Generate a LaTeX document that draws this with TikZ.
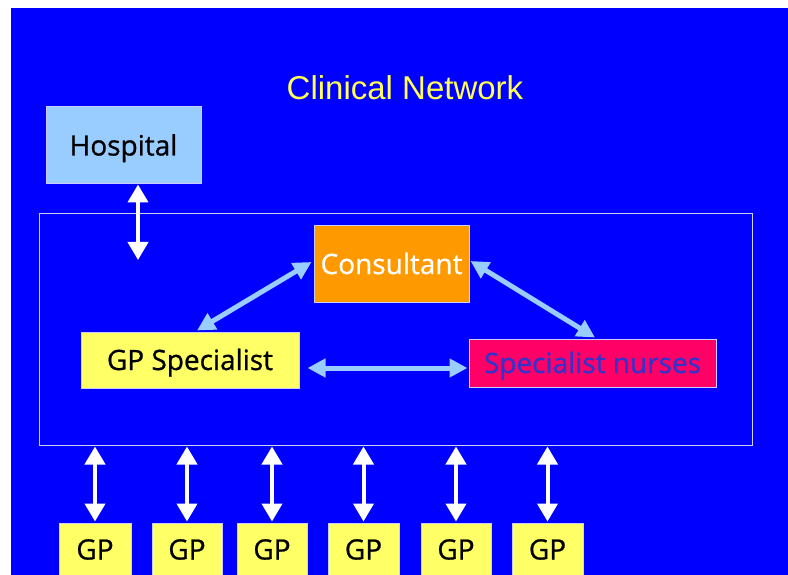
\documentclass[tikz,border=0pt]{standalone}
\usepackage{fontspec}
\setmainfont{Liberation Sans}
\newfontfamily\boxfont[FakeBold=0.8]{Open Sans}
\usetikzlibrary{arrows.meta,calc}
\definecolor{bgblue}{HTML}{0000FF}
\definecolor{hospblue}{HTML}{99CCFF}
\definecolor{consorange}{HTML}{FF9900}
\definecolor{gpyellow}{HTML}{FFFF66}
\definecolor{nursepink}{HTML}{FF0066}
\definecolor{nursetext}{HTML}{3333CC}
\definecolor{titleyellow}{HTML}{FFFF55}
\definecolor{boxedge}{HTML}{CCCCFF}
\definecolor{netedge}{HTML}{D0D0E8}
\definecolor{linkblue}{HTML}{99CCFF}
\tikzset{
  unitbox/.style={draw=boxedge, line width=1pt, inner sep=0pt, font=\boxfont\fontsize{28}{30}\selectfont, text height=20pt, text depth=0pt, align=center},
  whitearrow/.style={draw=white, line width=4pt, {Triangle[width=20pt,length=18pt]}-{Triangle[width=20pt,length=18pt]}},
  bluearrow/.style={draw=linkblue, line width=5pt, {Triangle[width=18pt,length=18pt]}-{Triangle[width=18pt,length=18pt]}},
  gpbox/.style={unitbox, fill=gpyellow, text=black, minimum height=53pt}
}
\begin{document}
\begin{tikzpicture}[x=1pt,y=-1pt]
\useasboundingbox (0,0) rectangle (788,575);
\fill[white] (0,0) rectangle (788,575);
\fill[bgblue] (11,8) rectangle (788,575);
\node[text=titleyellow, font=\fontsize{33}{36}\selectfont, inner sep=0pt, text height=23.5pt, text depth=0pt] (title) at (405,88) {Clinical Network};
\node[draw=netedge, line width=1pt, minimum width=713pt, minimum height=231pt, inner sep=0pt] (net) at (395.5,329.5) {};
\node[unitbox, fill=hospblue, text=black, minimum width=155pt, minimum height=77pt] (hosp) at (123.5,145.5) {Hospital};
\node[unitbox, fill=consorange, text=white, minimum width=155pt, minimum height=76pt] (cons) at (391.5,264) {Consultant};
\node[unitbox, fill=gpyellow, text=black, minimum width=218pt, minimum height=56pt] (gps) at (190,360) {GP Specialist};
\node[unitbox, fill=nursepink, text=nursetext, minimum width=247pt, minimum height=48pt] (nurses) at (592.5,363) {Specialist nurses};
\node[gpbox, minimum width=72pt] (gp1) at (95,549.5) {GP};
\node[gpbox, minimum width=70pt] (gp2) at (187,549.5) {GP};
\node[gpbox, minimum width=70pt] (gp3) at (272,549.5) {GP};
\node[gpbox, minimum width=71pt] (gp4) at (363.5,549.5) {GP};
\node[gpbox, minimum width=70pt] (gp5) at (456,549.5) {GP};
\node[gpbox, minimum width=71pt] (gp6) at (547.5,549.5) {GP};
\coordinate (hosparr) at (138,260);
\draw[whitearrow] (hosp.south -| hosparr) -- (hosparr);
\foreach \g in {gp1,gp2,gp3,gp4,gp5,gp6}{
  \draw[whitearrow] ($(net.south -| \g.north)+(0,1)$) -- ($(\g.north)+(0,-1)$);
}
\draw[bluearrow] ($(cons.west)+(-2,-2)$) -- ($(gps.north)+(7,-1)$);
\draw[bluearrow] ($(cons.east)+(1,-3)$) -- ($(nurses.north)+(2.5,-1)$);
\draw[bluearrow] ($(gps.east)+(8,8)$) -- ($(nurses.west)+(-1,5)$);
\end{tikzpicture}
\end{document}
